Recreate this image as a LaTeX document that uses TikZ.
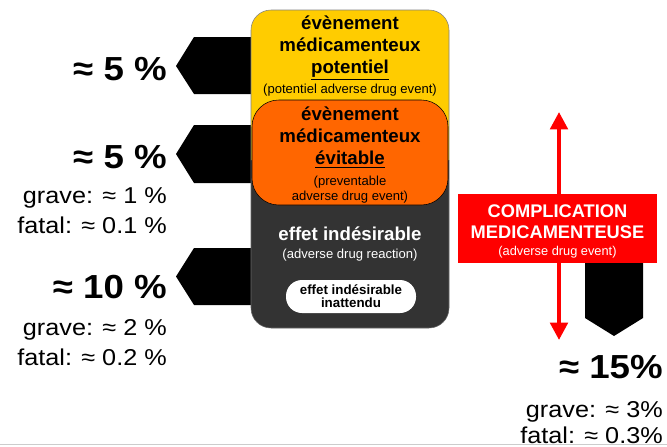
\documentclass[tikz,border=0pt]{standalone}
\usepackage{fontspec}
\setmainfont{Liberation Sans}
\newfontfamily\widefont[FakeStretch=1.1]{Liberation Sans}
\usepackage{tikz}
\usetikzlibrary{positioning}
\usetikzlibrary{arrows.meta}
\definecolor{yellow}{RGB}{255,204,0}
\definecolor{orange}{RGB}{255,102,0}
\definecolor{dark}{RGB}{51,51,51}
\definecolor{red}{RGB}{255,0,0}

\begin{document}
\begin{tikzpicture}[x=0.75pt, y=-0.75pt, >={Triangle[length=13pt,width=13pt]},
pctbig/.style={font=\widefont\bfseries\fontsize{25}{28}\selectfont, anchor=base east, inner sep=0pt},
pctsmall/.style={font=\widefont\fontsize{17.2}{19}\selectfont, anchor=base east, inner sep=0pt},
boxtitle/.style={font=\bfseries\fontsize{14}{16.5}\selectfont, align=center, inner sep=0pt},
boxnote/.style={font=\fontsize{9.8}{11.25}\selectfont, align=center, inner sep=0pt}]

\useasboundingbox (0,0) rectangle (667,446);

% black arrows pointing at the boxes
\fill (260,37) -- (194,37) -- (176,66) -- (194,94) -- (260,94) -- cycle;
\fill (260,125) -- (194,125) -- (176,154) -- (194,183) -- (260,183) -- cycle;
\fill (260,248) -- (194,248) -- (176,276.5) -- (194,305) -- (260,305) -- cycle;
\fill (585,250) -- (585,318) -- (614,336) -- (643,318) -- (643,250) -- cycle;

% boxes
\draw [fill=dark, draw=black!60, rounded corners=15pt] (251,160) -- (251,328) -- (449,328) -- (449,160);
\draw [fill=yellow, draw=black!50, rounded corners=15pt] (251,160) -- (251,10) -- (449,10) -- (449,160);
\draw [fill=orange, draw=black, rounded corners=20pt] (252,100) rectangle (448,205);

% texts in the boxes
\node [boxtitle, anchor=north] (pot) at (350,16) {évènement\\médicamenteux\\\underline{potentiel}};
\node [boxnote, anchor=base] (potn) at (350,93) {(potentiel adverse drug event)};

\node [boxtitle, anchor=north] (evi) at (350,107) {évènement\\médicamenteux\\\underline{évitable}};
\node [boxnote, anchor=north] (evin) at (350,176) {(preventable\\adverse drug event)};

\node [boxtitle, text=white, anchor=base] (ind) at (350,240) {effet indésirable};
\node [boxnote, text=white, anchor=base] (indn) at (350,258) {(adverse drug reaction)};
\node [fill=white, rounded corners=12pt, minimum width=97.5pt, minimum height=24.75pt, inner sep=0pt, align=center,
  font=\bfseries\fontsize{10}{10}\selectfont] (inat) at (351,296.5) {effet indésirable\\inattendu};

% red arrow and box
\coordinate (up) at (559,112);
\coordinate (down) at (559,340);
\draw [red, line width=3pt, <->] (up) -- (down);
\node [fill=red, minimum width=149.25pt, minimum height=51.75pt, inner sep=0pt] (adr) at (557.5,228.5) {};
\node [font=\bfseries\fontsize{13.7}{15.75}\selectfont, text=white, align=center, inner sep=0pt, anchor=north] (adrt) at (557.5,204) {COMPLICATION\\MEDICAMENTEUSE};
\node [font=\fontsize{9.6}{11}\selectfont, text=white, inner sep=0pt, anchor=base] (adrn) at (557.5,255) {(adverse drug event)};

% percentages left
\node [pctbig] (p1) at (167,80) {≈ 5 \%};

\node [pctbig] (p2) at (167,168) {≈ 5 \%};
\node [pctsmall] (p2g) at (167,203) {grave: ≈ 1 \%};
\node [pctsmall] (p2f) at (167,233) {fatal: ≈ 0.1 \%};

\node [pctbig] (p3) at (167,298) {≈ 10 \%};
\node [pctsmall] (p3g) at (167,335) {grave: ≈ 2 \%};
\node [pctsmall] (p3f) at (167,365) {fatal: ≈ 0.2 \%};

% percentages right
\node [pctbig] (p4) at (663,378) {≈ 15\%};
\node [pctsmall] (p4g) at (663,417) {grave: ≈ 3\%};
\node [pctsmall] (p4f) at (663,443) {fatal: ≈ 0.3\%};

\draw [black!20] (0,444.5) -- (667,444.5);

\end{tikzpicture}
\end{document}
